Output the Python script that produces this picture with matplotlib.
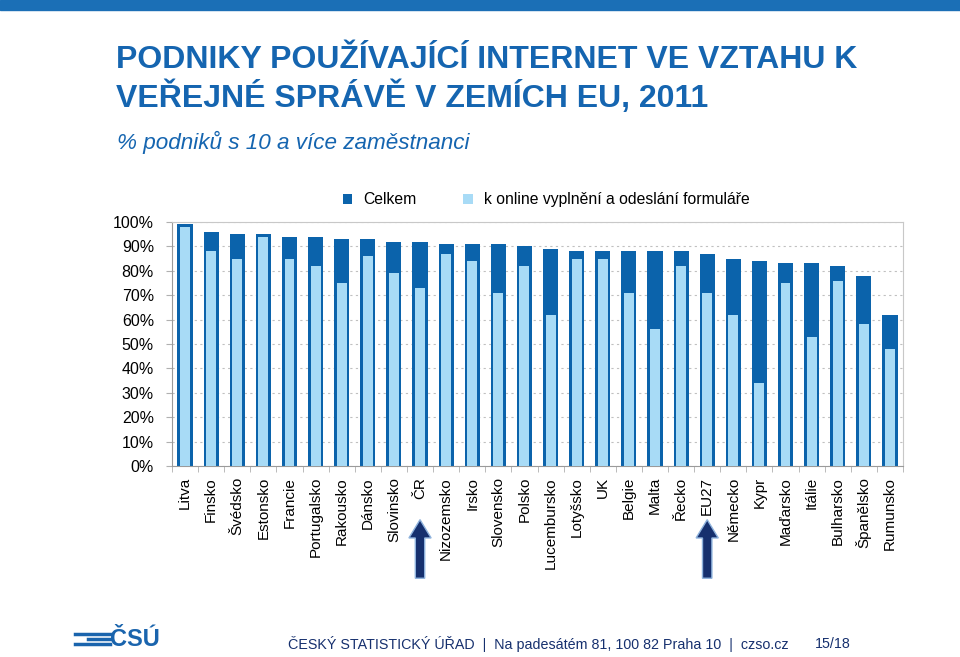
import matplotlib.pyplot as plt
import matplotlib.patches as mpatches
import matplotlib.transforms as mtransforms

plt.rcParams['font.family'] = ['Liberation Sans', 'DejaVu Sans']

countries = ['Litva', 'Finsko', 'Švédsko', 'Estonsko', 'Francie', 'Portugalsko',
             'Rakousko', 'Dánsko', 'Slovinsko', 'ČR', 'Nizozemsko', 'Irsko',
             'Slovensko', 'Polsko', 'Lucembursko', 'Lotyšsko', 'UK', 'Belgie',
             'Malta', 'Řecko', 'EU27', 'Německo', 'Kypr', 'Maďarsko', 'Itálie',
             'Bulharsko', 'Španělsko', 'Rumunsko']
celkem = [99, 96, 95, 95, 94, 94, 93, 93, 92, 92, 91, 91, 91, 90,
          89, 88, 88, 88, 88, 88, 87, 85, 84, 83, 83, 82, 78, 62]
online = [98, 88, 85, 94, 85, 82, 75, 86, 79, 73, 87, 84, 71, 82,
          62, 85, 85, 71, 56, 82, 71, 62, 34, 75, 53, 76, 58, 48]
arrow_at = ['ČR', 'EU27']

dark = '#0b63ab'
light = '#a8dbf6'
navy = '#16306e'

fig = plt.figure(figsize=(9.6, 6.57), dpi=100)

# top ribbon
fig.patches.append(mpatches.Rectangle((0, 1 - 10 / 657), 1, 10 / 657, transform=fig.transFigure,
                                      color='#1b6fb6', zorder=0))

fig.text(116 / 960, 1 - 45 / 657, 'PODNIKY POUŽÍVAJÍCÍ INTERNET VE VZTAHU K\nVEŘEJNÉ SPRÁVĚ V ZEMÍCH EU, 2011',
         fontsize=23, fontweight='bold', color='#1565b0', va='top', ha='left', linespacing=1.2)
fig.text(117 / 960, 1 - 142 / 657, '% podniků s 10 a více zaměstnanci', fontsize=16.2, style='italic',
         color='#1565b0', va='center', ha='left')

ax = fig.add_axes([172 / 960, (657 - 466) / 657, (903 - 172) / 960, (466 - 222) / 657])
x = range(len(countries))
ax.bar(x, celkem, width=0.58, color=dark, label='Celkem', zorder=2)
ax.bar(x, online, width=0.38, color=light, label='k online vyplnění a odeslání formuláře', zorder=3)

ax.set_xlim(-0.5, len(countries) - 0.5)
ax.set_ylim(0, 100)
ax.set_yticks(range(0, 101, 10))
ax.set_yticklabels([f'{v}%' for v in range(0, 101, 10)], fontsize=11.5)
ax.set_xticks(list(x))
ax.set_xticklabels(countries, rotation=90, fontsize=11)
ax.tick_params(axis='x', length=0, pad=8)
ax.set_xticks([i + 0.5 for i in range(-1, len(countries))], minor=True)
ax.tick_params(axis='x', which='minor', length=4, color='#b0b0b0', direction='out')
ax.tick_params(axis='y', length=4, color='#b0b0b0', pad=9)
ax.grid(axis='y', linestyle=(0, (2, 3)), color='#c0c0c0', linewidth=0.8, zorder=0)
for s in ax.spines.values():
    s.set_color('#c8c8c8')
ax.spines['left'].set_color('#9a9a9a')
ax.spines['bottom'].set_color('#9a9a9a')

ax.legend(loc='lower left', bbox_to_anchor=(0.225, 1.035), ncol=2, frameon=False, fontsize=11.3,
          handlelength=0.6, handleheight=0.6, columnspacing=3.0, handletextpad=0.7, borderaxespad=0)

# arrows under highlighted categories
trans = mtransforms.blended_transform_factory(ax.transData, ax.transAxes)
for name in arrow_at:
    i = countries.index(name)
    arr = mpatches.FancyArrow(i, -0.46, 0, 0.24, width=0.36, head_width=0.85, head_length=0.075,
                              length_includes_head=True, transform=trans, clip_on=False,
                              facecolor=navy, edgecolor='#8fb3dd', linewidth=1, zorder=5)
    ax.add_patch(arr)

# footer
for k, yy in enumerate([634, 639, 644]):
    x0 = 75 / 960 if k != 1 else 88 / 960
    fig.add_artist(plt.Line2D([x0, 110 / 960], [1 - yy / 657] * 2, color='#1a64ad', linewidth=2.5))
fig.text(110 / 960, 1 - 639 / 657, 'ČSÚ', fontsize=17, fontweight='bold', color='#1a64ad',
         va='center', ha='left')
fig.text(288 / 960, 1 - 644 / 657,
         'ČESKÝ STATISTICKÝ ÚŘAD  |  Na padesátém 81, 100 82 Praha 10  |  czso.cz',
         fontsize=10.3, color=navy, va='center', ha='left')
fig.text(815 / 960, 1 - 644 / 657, '15/18', fontsize=10.3, color=navy, va='center', ha='left')

fig.savefig('out.png', dpi=100)
